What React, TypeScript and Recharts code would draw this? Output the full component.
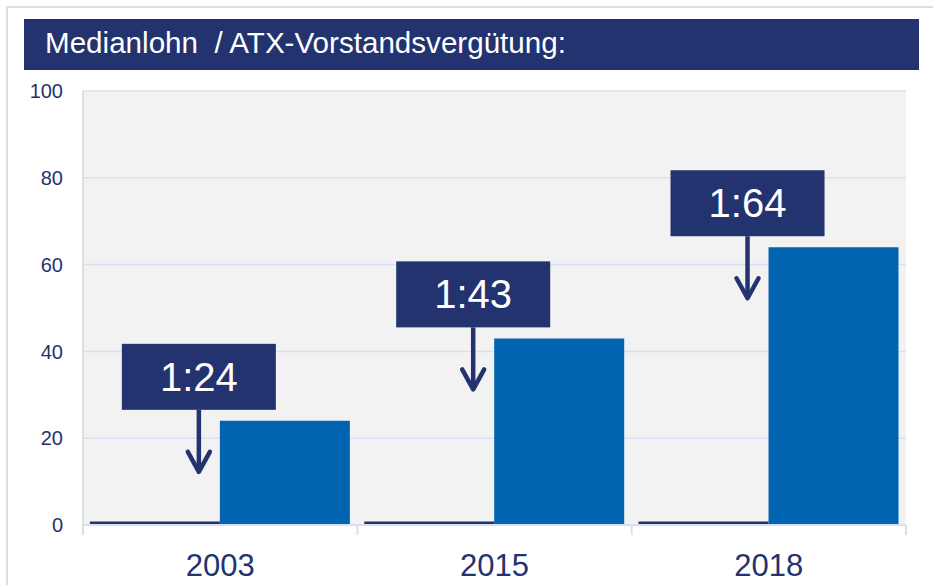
import React from 'react'
import { BarChart, Bar, XAxis, YAxis, CartesianGrid, LabelList } from 'recharts'

// colours picked from the slide
const NAVY = '#233370'
const BLUE = '#0064b0'
const GRID = '#d9dff2'
const FONT = '"Liberation Sans", Arial, sans-serif'

const years = ['2003', '2015', '2018']
const medianWage = [0.8, 0.8, 0.8]
const boardPay = [24, 43, 64]
const ratioLabels = ['1:24', '1:43', '1:64']
const yTicks = [0, 20, 40, 60, 80, 100]

const data = years.map((year, i) => ({
  year,
  median: medianWage[i],
  board: boardPay[i],
  ratio: ratioLabels[i]
}))

// year label + boundary tick under the category axis
const YearTick = ({ x, y, payload, index }: any) => {
  const half = payload?.offset || 137.3
  return (
    <g>
      <line x1={x - half} y1={y} x2={x - half} y2={y + 10} stroke={GRID} strokeWidth={2} />
      {index === years.length - 1 && (
        <line x1={x + half} y1={y} x2={x + half} y2={y + 10} stroke={GRID} strokeWidth={2} />
      )}
      <text x={x} y={y + 51} textAnchor="middle" fill={NAVY} fontSize={31} fontFamily={FONT}>
        {payload.value}
      </text>
    </g>
  )
}

// ratio box with the arrow pointing down, placed from the bar's own position
const RatioCallout = ({ x, y, index }: any) => {
  const label = ratioLabels[index]
  const cx = x - 21
  const bottom = y - 11
  const tip = bottom + 62
  return (
    <g>
      <rect x={x - 98} y={bottom - 66} width={154} height={66} fill={NAVY} />
      <text x={cx} y={bottom - 19} textAnchor="middle" fill="#fff" fontSize={40} fontFamily={FONT}>
        {label}
      </text>
      <line x1={cx} y1={bottom} x2={cx} y2={tip - 2} stroke={NAVY} strokeWidth={4.5} />
      <polyline
        points={`${cx - 11},${tip - 20} ${cx},${tip} ${cx + 11},${tip - 20}`}
        fill="none"
        stroke={NAVY}
        strokeWidth={4.5}
        strokeLinecap="round"
        strokeLinejoin="round"
      />
    </g>
  )
}

export default function App() {
  return (
    <div style={{ position: 'absolute', left: 0, top: 0, width: 933, height: 585, background: '#fff', fontFamily: FONT, overflow: 'hidden' }}>
      <div style={{ position: 'absolute', left: 6, top: 6, width: 940, height: 600, borderTop: '2px solid #dedede', borderLeft: '2px solid #dedede' }} />
      <div
        style={{
          position: 'absolute',
          left: 24,
          top: 19,
          width: 895,
          height: 51,
          background: NAVY,
          color: '#fff',
          fontSize: 29.6,
          lineHeight: '47px',
          paddingLeft: 21,
          boxSizing: 'border-box',
          whiteSpace: 'pre'
        }}
      >
        {'Medianlohn  / ATX-Vorstandsvergütung:'}
      </div>
      <div style={{ position: 'absolute', left: 0, top: 0 }}>
        <BarChart
          width={933}
          height={585}
          data={data}
          margin={{ top: 91, right: 27, left: 0, bottom: 0 }}
          barCategoryGap="2.5%"
          barGap={0}
        >
          <CartesianGrid vertical={false} fill="#f2f2f2" stroke={GRID} strokeWidth={1.5} />
          <XAxis
            dataKey="year"
            height={60}
            tickLine={false}
            tickSize={0}
            tickMargin={0}
            axisLine={{ stroke: GRID, strokeWidth: 2 }}
            tick={<YearTick />}
            interval={0}
          />
          <YAxis
            width={83}
            domain={[0, 100]}
            ticks={yTicks}
            tickLine={false}
            tickSize={0}
            tickMargin={20}
            axisLine={{ stroke: '#d9d9d9', strokeWidth: 1.5 }}
            tick={{ fill: NAVY, fontSize: 20, fontFamily: FONT }}
          />
          <Bar dataKey="median" fill={NAVY} isAnimationActive={false} />
          <Bar dataKey="board" fill={BLUE} isAnimationActive={false}>
            <LabelList dataKey="ratio" content={<RatioCallout />} />
          </Bar>
        </BarChart>
      </div>
    </div>
  )
}
